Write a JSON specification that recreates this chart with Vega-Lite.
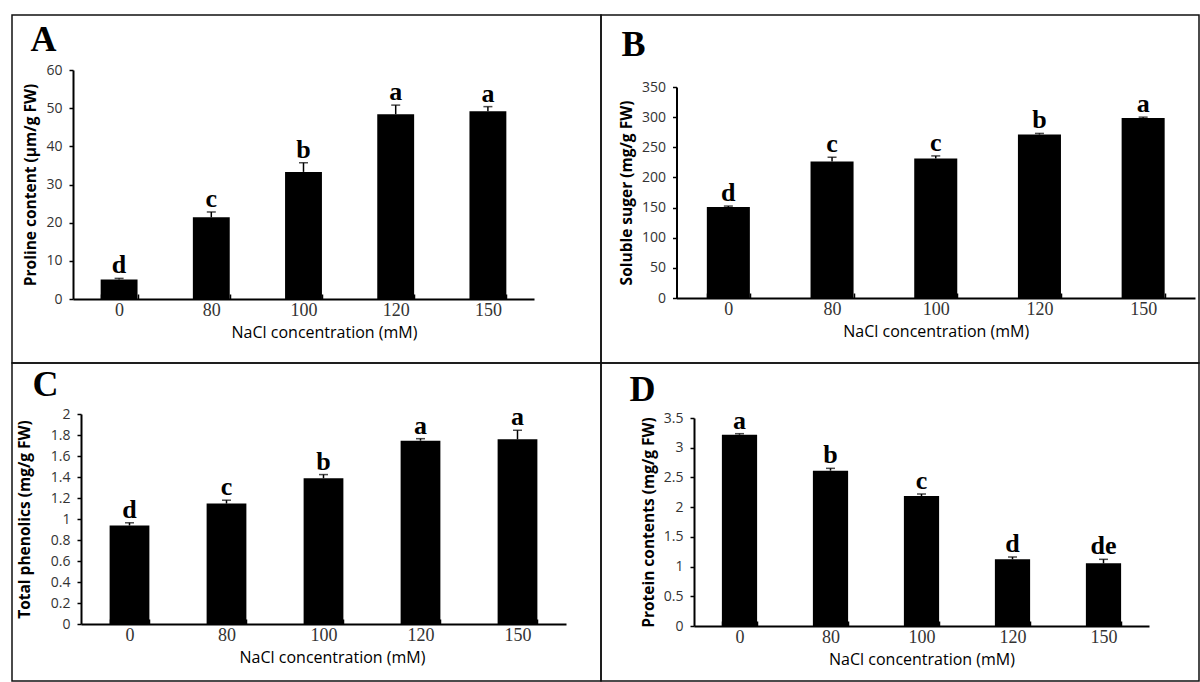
{
  "$schema": "https://vega.github.io/schema/vega-lite/v6.json",
  "padding": {"left": 11, "top": 14, "right": 0, "bottom": 0},
  "background": "white",
  "datasets": {
    "A": [
      {"conc": "0", "value": 5.1, "hi": 5.4, "sig": "d"},
      {"conc": "80", "value": 21.4, "hi": 22.8, "sig": "c"},
      {"conc": "100", "value": 33.3, "hi": 35.7, "sig": "b"},
      {"conc": "120", "value": 48.4, "hi": 50.8, "sig": "a"},
      {"conc": "150", "value": 49.2, "hi": 50.4, "sig": "a"}
    ],
    "B": [
      {"conc": "0", "value": 150.9, "hi": 152.5, "sig": "d"},
      {"conc": "80", "value": 226.3, "hi": 233.5, "sig": "c"},
      {"conc": "100", "value": 231.3, "hi": 235.7, "sig": "c"},
      {"conc": "120", "value": 271.2, "hi": 273.0, "sig": "b"},
      {"conc": "150", "value": 298.4, "hi": 300.0, "sig": "a"}
    ],
    "C": [
      {"conc": "0", "value": 0.938, "hi": 0.964, "sig": "d"},
      {"conc": "80", "value": 1.147, "hi": 1.179, "sig": "c"},
      {"conc": "100", "value": 1.388, "hi": 1.423, "sig": "b"},
      {"conc": "120", "value": 1.746, "hi": 1.765, "sig": "a"},
      {"conc": "150", "value": 1.759, "hi": 1.845, "sig": "a"}
    ],
    "D": [
      {"conc": "0", "value": 3.22, "hi": 3.236, "sig": "a"},
      {"conc": "80", "value": 2.614, "hi": 2.653, "sig": "b"},
      {"conc": "100", "value": 2.187, "hi": 2.221, "sig": "c"},
      {"conc": "120", "value": 1.122, "hi": 1.161, "sig": "d"},
      {"conc": "150", "value": 1.054, "hi": 1.122, "sig": "de"}
    ]
  },
  "columns": 2,
  "spacing": 0,
  "bounds": "flush",
  "align": "each",
  "concat": [
    {
      "width": 589, "height": 348,
      "data": {"name": "A"},
      "encoding": {
        "x": {"field": "conc", "type": "ordinal", "sort": ["0", "80", "100", "120", "150"],
          "scale": {"range": [61, 522], "paddingInner": 0.6, "paddingOuter": 0.3},
          "axis": {"title": "NaCl concentration (mM)", "offset": -64, "titleX": 312}}
      },
      "layer": [
        {"layer": [
          {"mark": {"type": "bar", "color": "#000"},
           "encoding": {"y": {"field": "value", "type": "quantitative", "title": "Proline content (µm/g FW)",
             "scale": {"domain": [0, 60], "range": [284, 55], "nice": false},
             "axis": {"values": [0, 10, 20, 30, 40, 50, 60], "labelOverlap": false, "offset": -61}}}},
          {"mark": {"type": "rule", "color": "#000", "strokeWidth": 1.5},
           "encoding": {"y": {"field": "value", "type": "quantitative", "title": "Proline content (µm/g FW)",
             "axis": {"values": [0, 10, 20, 30, 40, 50, 60], "labelOverlap": false, "offset": -61}}, "y2": {"field": "hi"}}},
          {"mark": {"type": "tick", "orient": "horizontal", "color": "#000", "size": 9, "thickness": 1.5},
           "encoding": {"y": {"field": "hi", "type": "quantitative", "title": "Proline content (µm/g FW)",
             "axis": {"values": [0, 10, 20, 30, 40, 50, 60], "labelOverlap": false, "offset": -61}}}}
        ]},
        {"mark": {"type": "text", "font": "Liberation Serif", "fontSize": 26, "fontWeight": "bold", "dy": -5, "baseline": "alphabetic", "color": "#000"},
         "encoding": {"y": {"field": "hi", "type": "quantitative", "title": "A",
           "scale": {"domain": [0, 60], "range": [284, 55], "nice": false},
           "axis": {"orient": "right", "domain": false, "ticks": false, "labels": false, "titleAngle": 0, "titleAlign": "left", "titleBaseline": "alphabetic", "titleX": -571, "titleY": 35, "titleFont": "Liberation Serif", "titleFontSize": 36, "titleFontWeight": "bold", "titleColor": "#000"}},
           "text": {"field": "sig"}}}
      ],
      "resolve": {"scale": {"y": "independent"}, "axis": {"y": "independent"}}
    },
    {
      "width": 598, "height": 348,
      "data": {"name": "B"},
      "encoding": {
        "x": {"field": "conc", "type": "ordinal", "sort": ["0", "80", "100", "120", "150"],
          "scale": {"range": [75.5, 594], "paddingInner": 0.585, "paddingOuter": 0.2925},
          "axis": {"title": "NaCl concentration (mM)", "offset": -65}}
      },
      "layer": [
        {"layer": [
          {"mark": {"type": "bar", "color": "#000"},
           "encoding": {"y": {"field": "value", "type": "quantitative", "title": "Soluble suger (mg/g FW)",
             "scale": {"domain": [0, 350], "range": [283, 72], "nice": false},
             "axis": {"values": [0, 50, 100, 150, 200, 250, 300, 350], "labelOverlap": false, "offset": -75.5}}}},
          {"mark": {"type": "rule", "color": "#000", "strokeWidth": 1.5},
           "encoding": {"y": {"field": "value", "type": "quantitative", "title": "Soluble suger (mg/g FW)",
             "axis": {"values": [0, 50, 100, 150, 200, 250, 300, 350], "labelOverlap": false, "offset": -75.5}}, "y2": {"field": "hi"}}},
          {"mark": {"type": "tick", "orient": "horizontal", "color": "#000", "size": 9, "thickness": 1.5},
           "encoding": {"y": {"field": "hi", "type": "quantitative", "title": "Soluble suger (mg/g FW)",
             "axis": {"values": [0, 50, 100, 150, 200, 250, 300, 350], "labelOverlap": false, "offset": -75.5}}}}
        ]},
        {"mark": {"type": "text", "font": "Liberation Serif", "fontSize": 26, "fontWeight": "bold", "dy": -5, "baseline": "alphabetic", "color": "#000"},
         "encoding": {"y": {"field": "hi", "type": "quantitative", "title": "B",
           "scale": {"domain": [0, 350], "range": [283, 72], "nice": false},
           "axis": {"orient": "right", "domain": false, "ticks": false, "labels": false, "titleAngle": 0, "titleAlign": "left", "titleBaseline": "alphabetic", "titleX": -578, "titleY": 40, "titleFont": "Liberation Serif", "titleFontSize": 36, "titleFontWeight": "bold", "titleColor": "#000"}},
           "text": {"field": "sig"}}}
      ],
      "resolve": {"scale": {"y": "independent"}, "axis": {"y": "independent"}}
    },
    {
      "width": 589, "height": 318,
      "data": {"name": "C"},
      "encoding": {
        "x": {"field": "conc", "type": "ordinal", "sort": ["0", "80", "100", "120", "150"],
          "scale": {"range": [69, 554], "paddingInner": 0.59, "paddingOuter": 0.295},
          "axis": {"title": "NaCl concentration (mM)", "offset": -57, "titleX": 320}}
      },
      "layer": [
        {"layer": [
          {"mark": {"type": "bar", "color": "#000"},
           "encoding": {"y": {"field": "value", "type": "quantitative", "title": "Total phenolics  (mg/g FW)",
             "scale": {"domain": [0, 2], "range": [261, 51], "nice": false},
             "axis": {"values": [0, 0.2, 0.4, 0.6, 0.8, 1, 1.2, 1.4, 1.6, 1.8, 2], "format": "~g", "labelOverlap": false, "offset": -69, "titlePadding": 18}}}},
          {"mark": {"type": "rule", "color": "#000", "strokeWidth": 1.5},
           "encoding": {"y": {"field": "value", "type": "quantitative", "title": "Total phenolics  (mg/g FW)",
             "axis": {"values": [0, 0.2, 0.4, 0.6, 0.8, 1, 1.2, 1.4, 1.6, 1.8, 2], "format": "~g", "labelOverlap": false, "offset": -69, "titlePadding": 18}}, "y2": {"field": "hi"}}},
          {"mark": {"type": "tick", "orient": "horizontal", "color": "#000", "size": 9, "thickness": 1.5},
           "encoding": {"y": {"field": "hi", "type": "quantitative", "title": "Total phenolics  (mg/g FW)",
             "axis": {"values": [0, 0.2, 0.4, 0.6, 0.8, 1, 1.2, 1.4, 1.6, 1.8, 2], "format": "~g", "labelOverlap": false, "offset": -69, "titlePadding": 18}}}}
        ]},
        {"mark": {"type": "text", "font": "Liberation Serif", "fontSize": 26, "fontWeight": "bold", "dy": -5, "baseline": "alphabetic", "color": "#000"},
         "encoding": {"y": {"field": "hi", "type": "quantitative", "title": "C",
           "scale": {"domain": [0, 2], "range": [261, 51], "nice": false},
           "axis": {"orient": "right", "domain": false, "ticks": false, "labels": false, "titleAngle": 0, "titleAlign": "left", "titleBaseline": "alphabetic", "titleX": -569, "titleY": 32, "titleFont": "Liberation Serif", "titleFontSize": 36, "titleFontWeight": "bold", "titleColor": "#000"}},
           "text": {"field": "sig"}}}
      ],
      "resolve": {"scale": {"y": "independent"}, "axis": {"y": "independent"}}
    },
    {
      "width": 598, "height": 318,
      "data": {"name": "D"},
      "encoding": {
        "x": {"field": "conc", "type": "ordinal", "sort": ["0", "80", "100", "120", "150"],
          "scale": {"range": [93, 548], "paddingInner": 0.613, "paddingOuter": 0.3065},
          "axis": {"title": "NaCl concentration (mM)", "offset": -55}}
      },
      "layer": [
        {"layer": [
          {"mark": {"type": "bar", "color": "#000"},
           "encoding": {"y": {"field": "value", "type": "quantitative", "title": "Protein contents (mg/g FW)",
             "scale": {"domain": [0, 3.5], "range": [263, 55], "nice": false},
             "axis": {"values": [0, 0.5, 1, 1.5, 2, 2.5, 3, 3.5], "format": "~g", "labelOverlap": false, "offset": -93}}}},
          {"mark": {"type": "rule", "color": "#000", "strokeWidth": 1.5},
           "encoding": {"y": {"field": "value", "type": "quantitative", "title": "Protein contents (mg/g FW)",
             "axis": {"values": [0, 0.5, 1, 1.5, 2, 2.5, 3, 3.5], "format": "~g", "labelOverlap": false, "offset": -93}}, "y2": {"field": "hi"}}},
          {"mark": {"type": "tick", "orient": "horizontal", "color": "#000", "size": 9, "thickness": 1.5},
           "encoding": {"y": {"field": "hi", "type": "quantitative", "title": "Protein contents (mg/g FW)",
             "axis": {"values": [0, 0.5, 1, 1.5, 2, 2.5, 3, 3.5], "format": "~g", "labelOverlap": false, "offset": -93}}}}
        ]},
        {"mark": {"type": "text", "font": "Liberation Serif", "fontSize": 26, "fontWeight": "bold", "dy": -5, "baseline": "alphabetic", "color": "#000"},
         "encoding": {"y": {"field": "hi", "type": "quantitative", "title": "D",
           "scale": {"domain": [0, 3.5], "range": [263, 55], "nice": false},
           "axis": {"orient": "right", "domain": false, "ticks": false, "labels": false, "titleAngle": 0, "titleAlign": "left", "titleBaseline": "alphabetic", "titleX": -570, "titleY": 37, "titleFont": "Liberation Serif", "titleFontSize": 36, "titleFontWeight": "bold", "titleColor": "#000"}},
           "text": {"field": "sig"}}}
      ],
      "resolve": {"scale": {"y": "independent"}, "axis": {"y": "independent"}}
    }
  ],
  "config": {
    "view": {"stroke": "#111", "strokeWidth": 1.5},
    "axisY": {"domainColor": "#000", "domainWidth": 2, "tickColor": "#000", "tickWidth": 1.5, "tickSize": 4, "grid": false, "labelOverlap": false,
      "labelFont": "Open Sans", "labelFontSize": 14, "labelColor": "#333", "labelPadding": 7,
      "titleFont": "Open Sans", "titleFontSize": 15.5, "titleFontWeight": "bold", "titleColor": "#000", "titlePadding": 7},
    "axisX": {"domainColor": "#000", "domainWidth": 2, "tickColor": "#000", "tickWidth": 1.5, "tickSize": -5, "tickBand": "extent", "grid": false,
      "labelFont": "Liberation Serif", "labelFontSize": 18, "labelColor": "#333", "labelPadding": 7, "labelAngle": 0,
      "titleFont": "Open Sans", "titleFontSize": 16, "titleFontWeight": "normal", "titleColor": "#000", "titlePadding": 5}
  }
}
